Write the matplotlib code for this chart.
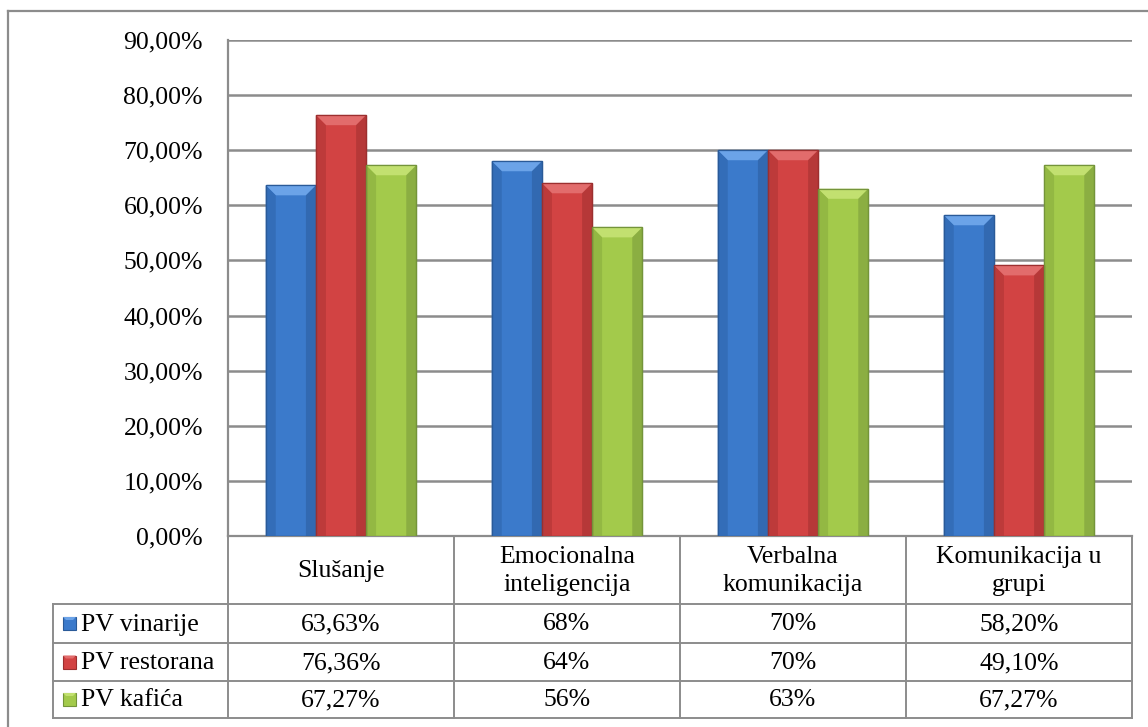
import matplotlib
matplotlib.use('Agg')
import matplotlib.pyplot as plt
from matplotlib.patches import Polygon, Rectangle
from matplotlib.lines import Line2D

# ---------------- data ----------------
categories = ['Slušanje', 'Emocionalna\ninteligencija', 'Verbalna\nkomunikacija', 'Komunikacija u\ngrupi']
series_names = ['PV vinarije', 'PV restorana', 'PV kafića']
pv_vinarije = [63.63, 68, 70, 58.20]
pv_restorana = [76.36, 64, 70, 49.10]
pv_kafica = [67.27, 56, 63, 67.27]
table_vinarije = ['63,63%', '68%', '70%', '58,20%']
table_restorana = ['76,36%', '64%', '70%', '49,10%']
table_kafica = ['67,27%', '56%', '63%', '67,27%']
y_ticks = [0, 10, 20, 30, 40, 50, 60, 70, 80, 90]
y_tick_labels = ['0,00%', '10,00%', '20,00%', '30,00%', '40,00%', '50,00%',
                 '60,00%', '70,00%', '80,00%', '90,00%']

series_values = [pv_vinarije, pv_restorana, pv_kafica]
table_rows = [table_vinarije, table_restorana, table_kafica]

# colours: body, top bevel, edge
body_colors = ['#3B7ACB', '#D24343', '#A3CA4B']
light_colors = ['#6BA3E8', '#E26C6C', '#C2E070']
dark_colors = ['#2A5A98', '#9C2F2F', '#74943A']
side_colors = ['#336DB8', '#BD3A3A', '#93B843']

FONT = 'Liberation Serif'
FS = 18.5
GRID = '#8c8c8c'

W, H = 1148, 727
fig = plt.figure(figsize=(W / 100, H / 100), dpi=100)
fig.patch.set_facecolor('white')

# overlay axes in pixel coordinates for the frame and data table
ov = fig.add_axes([0, 0, 1, 1], zorder=0)
ov.set_xlim(0, W)
ov.set_ylim(H, 0)
ov.axis('off')

PL, PR, PT, PB = 228, 1132, 40, 536
ax = fig.add_axes([PL / W, (H - PB) / H, (PR - PL) / W, (PB - PT) / H], zorder=1)
ax.set_facecolor('none')
ax.set_xlim(0, len(categories))
ax.set_ylim(0, 90)

bw = 0.222
px_x = len(categories) / (PR - PL)
px_y = 90 / (PB - PT)
bev = 10
for i, vals in enumerate(series_values):
    xs = [c + 0.5 + (i - 1) * bw for c in range(len(categories))]
    bars = ax.bar(xs, vals, width=bw, color=body_colors[i], edgecolor=dark_colors[i],
                  linewidth=0.9, zorder=3)
    for b in bars:
        x0, w, h = b.get_x(), b.get_width(), b.get_height()
        x1 = x0 + w
        dx, dy = bev * px_x, bev * px_y
        # top bevel
        ax.add_patch(Polygon([(x0, h), (x1, h), (x1 - dx, h - dy), (x0 + dx, h - dy)],
                             closed=True, facecolor=light_colors[i], edgecolor='none', zorder=4))
        # left bevel
        ax.add_patch(Polygon([(x0, 0), (x0, h), (x0 + dx, h - dy), (x0 + dx, 0)],
                             closed=True, facecolor=side_colors[i], edgecolor='none', zorder=4))
        # right bevel
        ax.add_patch(Polygon([(x1, 0), (x1, h), (x1 - dx, h - dy), (x1 - dx, 0)],
                             closed=True, facecolor=dark_colors[i], edgecolor='none', alpha=0.5, zorder=4))
        ax.add_patch(Rectangle((x0, 0), w, h, facecolor='none', edgecolor=dark_colors[i],
                               linewidth=0.9, zorder=5))

ax.set_yticks(y_ticks)
ax.set_yticklabels(y_tick_labels, fontfamily=FONT, fontsize=FS)
ax.set_xticks([])
ax.tick_params(axis='y', length=0, pad=18)
ax.yaxis.grid(True, color=GRID, linewidth=1.8, zorder=0)
ax.set_axisbelow(True)
for s in ['top', 'right']:
    ax.spines[s].set_visible(False)
for s in ['left', 'bottom']:
    ax.spines[s].set_color(GRID)
    ax.spines[s].set_linewidth(1.6)

# ---------------- frame ----------------
lc = GRID
ov.add_line(Line2D([8, 8], [11, H], color=lc, lw=1.6))
ov.add_line(Line2D([8, W], [11, 11], color=lc, lw=1.6))

# ---------------- data table ----------------
TL = 53
row_y = [PB, 604, 643, 681, 718]
ncat = len(categories)
col_x = [PL + k * (PR - PL) / ncat for k in range(ncat + 1)]
for k, x in enumerate(col_x):
    ov.add_line(Line2D([x, x], [PB, row_y[-1]], color=lc, lw=1.4))
ov.add_line(Line2D([TL, TL], [row_y[1], row_y[-1]], color=lc, lw=1.4))
for j, y in enumerate(row_y[1:]):
    ov.add_line(Line2D([TL, PR], [y, y], color=lc, lw=1.4))

for k, cat in enumerate(categories):
    cx = (col_x[k] + col_x[k + 1]) / 2
    ov.text(cx, (row_y[0] + row_y[1]) / 2 + 1, cat, ha='center', va='center',
            fontfamily=FONT, fontsize=FS, linespacing=1.3)

for r, (name, row) in enumerate(zip(series_names, table_rows)):
    cy = (row_y[r + 1] + row_y[r + 2]) / 2
    # legend key
    ks = 13
    kx = 63
    ov.add_patch(Rectangle((kx, cy - ks / 2), ks, ks, facecolor=body_colors[r],
                           edgecolor=dark_colors[r], lw=0.8))
    ov.add_patch(Polygon([(kx, cy - ks / 2), (kx + ks, cy - ks / 2), (kx + ks - 3, cy - ks / 2 + 3),
                          (kx + 3, cy - ks / 2 + 3)], closed=True, facecolor=light_colors[r],
                         edgecolor='none'))
    ov.text(81, cy + 1, name, ha='left', va='center', fontfamily=FONT, fontsize=FS)
    for k, val in enumerate(row):
        cx = (col_x[k] + col_x[k + 1]) / 2
        ov.text(cx, cy + 1, val, ha='center', va='center', fontfamily=FONT, fontsize=FS)

fig.savefig('out.png', dpi=100, facecolor='white')
